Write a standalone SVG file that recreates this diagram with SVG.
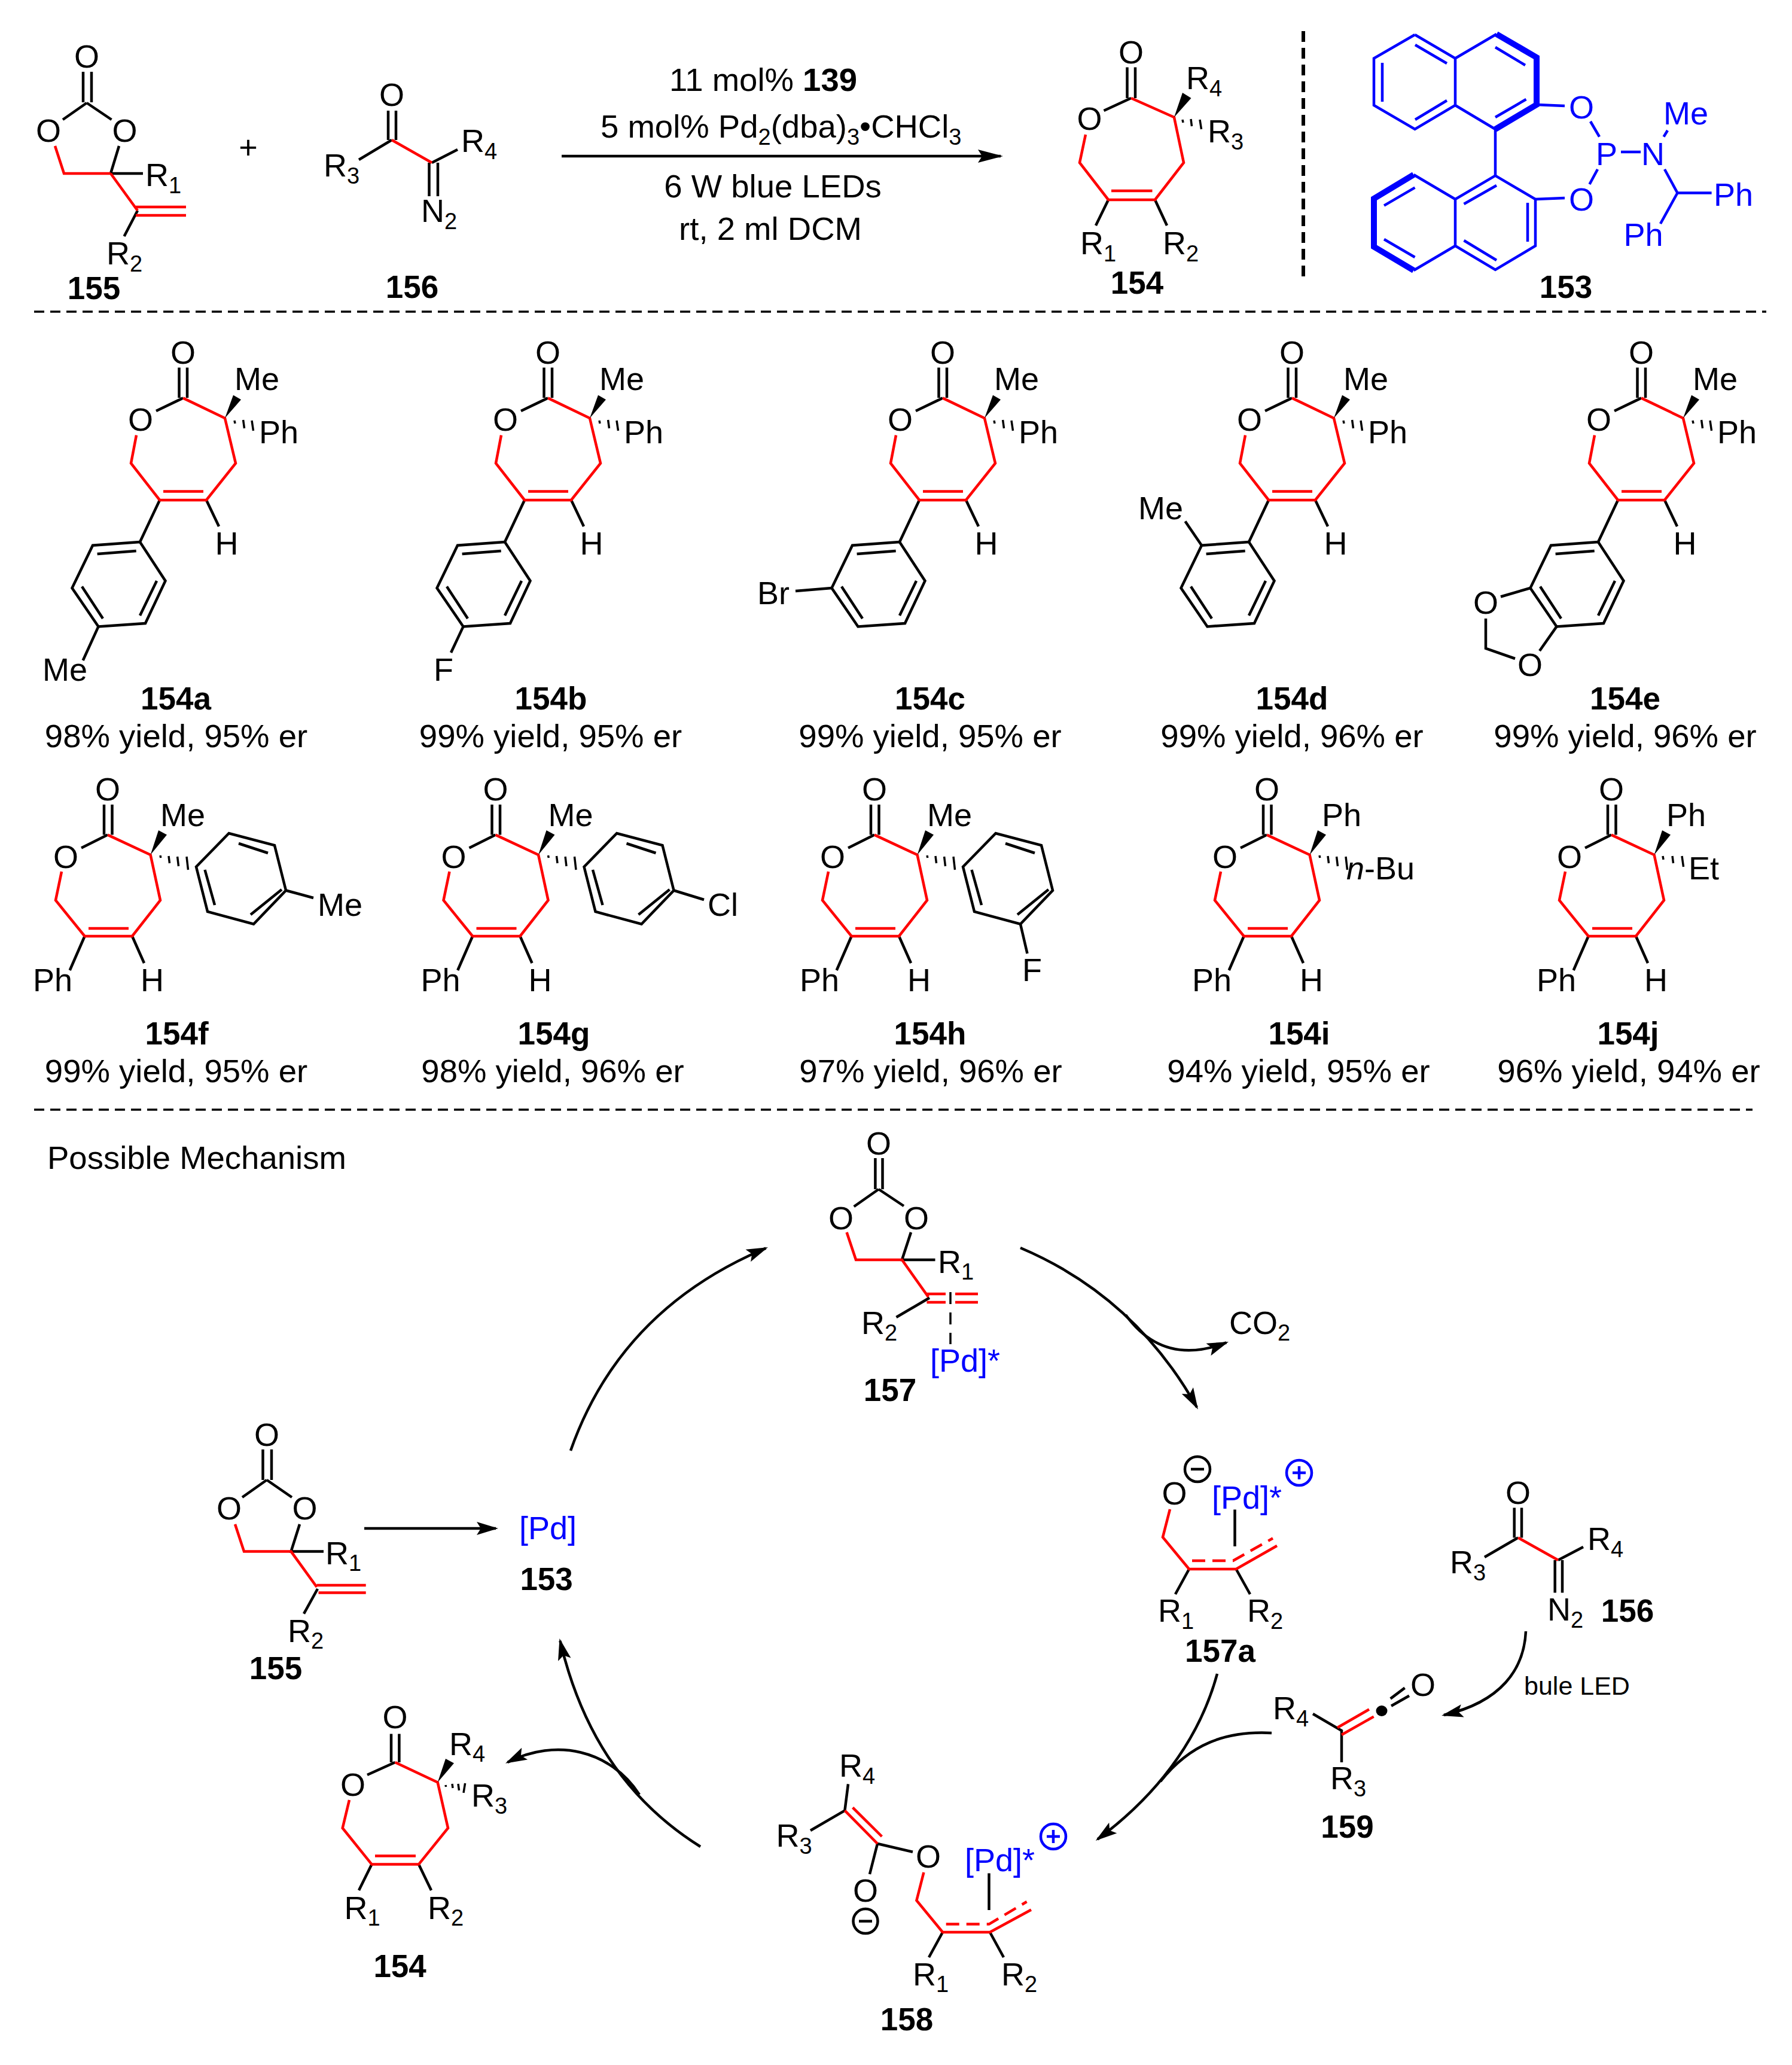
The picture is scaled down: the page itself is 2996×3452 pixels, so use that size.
<svg xmlns="http://www.w3.org/2000/svg" width="2996" height="3452" viewBox="0 0 2996 3452">
<style>
text{font-family:"Liberation Sans",Arial,sans-serif;font-size:54px;fill:#000}
.b{font-weight:700;font-size:53px;text-anchor:middle}
.c{text-anchor:middle}
.y{font-size:54.5px;text-anchor:middle}
.s{font-size:38px}
.bt{fill:#00f}
.k,.r,.l,.lt,.h,.ar,.ars,.da,.rd{fill:none;stroke-linecap:butt;stroke-linejoin:miter}
.k{stroke:#000;stroke-width:4.5}
.r{stroke:#f00;stroke-width:4.5}
.rd{stroke:#f00;stroke-width:4.5;stroke-dasharray:22 12}
.l{stroke:#00f;stroke-width:4.5}
.lt{stroke:#00f;stroke-width:10}
.h{stroke:#000;stroke-width:3.5}
.ar{stroke:#000;stroke-width:4.5;marker-end:url(#hl)}
.ars{stroke:#000;stroke-width:4.5;marker-end:url(#hs)}
.da{stroke:#000;stroke-width:3.5;stroke-dasharray:17 10}
</style>
<defs>
<marker id="hl" markerUnits="userSpaceOnUse" markerWidth="46" markerHeight="28" refX="38" refY="14" orient="auto"><path d="M0 3L42 14L0 25L7 14Z" fill="#000"/></marker>
<marker id="hs" markerUnits="userSpaceOnUse" markerWidth="42" markerHeight="28" refX="32" refY="14" orient="auto"><path d="M0 3L36 14L0 25L7 14Z" fill="#000"/></marker>
<g id="core1">
<path class="k" d="M299.5 614.5V665M313 614.5V665M261 687L306 665.4M345 836L366 880M267 836L234 906"/>
<path class="r" d="M306 665.4L376 699L394 774.5L345 836H267L219 774.5L228 727.5M273 821.5H340"/>
<polygon points="376,699 390,660.6 403,668"/>
<path class="h" d="M392 703L393 708M406.6 702L408.5 716M421 703L423.5 720"/>
</g>
<path id="ar1" class="k" d="M234 906L155 911.7L120.5 983L164.5 1047.4L243 1042L276.5 971ZM162.6 926L227.7 921M137 980.5L172 1034M234 1029L262 971"/>
<g id="core2">
<path class="k" d="M174 1345V1395.6M187.5 1345V1395.6M136 1417.4L180 1395.6M141.6 1565L116.7 1622M221 1565L241 1610"/>
<path class="r" d="M180 1395.6L251.6 1429L268 1505L221 1565H141.6L93 1505L103 1457M148 1552H215"/>
<polygon points="251.6,1429 265,1388 279,1395.5"/>
</g>
<path id="hash4" class="h" d="M268 1430L268.8 1434M282 1431L283.5 1443M296.6 1432L298.5 1448M312 1432L314.5 1454"/>
<path id="hash3" class="h" d="M266 1431L267 1437M282 1431L283.5 1443M298 1431L300.5 1449"/>
<path id="ar2" class="k" d="M328 1449L382.7 1393L459 1413L478 1488.5L424 1544.7L347 1524ZM399 1410L448 1426M359 1513L342.5 1454M471 1487L419 1529"/>
</defs>

<g id="n155-top">
<path class="k" d="M139 120V171M153 120V171M145 172L105 200M145 172L186.5 200M199 244L185 290M185 290H239M230 352L207.6 395"/>
<path class="r" d="M92 244L107 290H185M185 290L230 352M227 346H311M227 360H311"/>
<text class="c" x="145" y="113">O</text><text class="c" x="81" y="237">O</text><text class="c" x="208.5" y="237">O</text>
<text x="243" y="311">R<tspan class="s" dy="12">1</tspan></text>
<text x="178" y="442">R<tspan class="s" dy="12">2</tspan></text>
<text class="b" x="157" y="500">155</text>
</g>
<g id="plus"><text class="c" x="415" y="265">+</text></g>
<g id="n156-top">
<path class="k" d="M649 185V234M662 185V234M655 234L600 267M722 272L765 250M717.5 272V328M732 272V328"/>
<path class="r" d="M655 234L722 272"/>
<text class="c" x="655" y="177">O</text>
<text x="771" y="254">R<tspan class="s" dy="12">4</tspan></text>
<text x="541" y="295">R<tspan class="s" dy="12">3</tspan></text>
<text x="704" y="371">N<tspan class="s" dy="12">2</tspan></text>
<text class="b" x="689" y="498">156</text>
</g>
<g id="conditions">
<text class="y" x="1276" y="152">11 mol% <tspan font-weight="700">139</tspan></text>
<text x="1004" y="230" style="font-size:54.5px">5 mol% Pd<tspan class="s" dy="12">2</tspan><tspan dy="-12">(dba)</tspan><tspan class="s" dy="12">3</tspan><tspan dy="-12">•CHCl</tspan><tspan class="s" dy="12">3</tspan></text>
<text class="y" x="1292" y="330">6 W blue LEDs</text>
<text class="y" x="1288" y="401">rt, 2 ml DCM</text>
</g>
<g id="n154-top">
<path class="k" d="M1884.5 112.5V164M1898 112.5V164M1845.5 185L1891 164M1853 334L1832 377M1931 334L1951 377"/>
<path class="r" d="M1891 164L1963 196L1979 272L1931 334H1853L1805 272L1815 225M1858 319H1926.5"/>
<polygon points="1963,196 1977,155 1991.5,164"/>
<path class="h" d="M1977 200L1978 205M1991 199L1992.5 211M2006 200L2008.5 216"/>
<text class="c" x="1891" y="106">O</text><text class="c" x="1821.5" y="217">O</text>
<text x="1983" y="149">R<tspan class="s" dy="12">4</tspan></text>
<text x="2019" y="237.5">R<tspan class="s" dy="12">3</tspan></text>
<text x="1806" y="425">R<tspan class="s" dy="12">1</tspan></text>
<text x="1944" y="425">R<tspan class="s" dy="12">2</tspan></text>
<text class="b" x="1901" y="491">154</text>
</g>
<g id="n153-ligand">
<path class="l" d="M2365.5 58L2297 97.5V176L2365.5 216L2433 176V97.5L2365.5 58M2433 97.5L2502 57M2500 216L2433 176M2311 105V170M2366 75L2419 106M2366 200L2419 168M2500 79L2550 109M2500 196L2551.5 166M2500 216V293.6"/>
<path class="lt" d="M2502 57L2569 96V175L2500 216"/>
<path class="l" d="M2500 293.6L2567 333V411L2500 451L2433 411V333L2500 293.6M2433 333L2363.5 292M2363.5 452L2433 411M2502 310L2447.5 341M2554 339V404M2502 435L2447.5 402M2365.5 313.6L2314 343.6M2314 400L2365.5 430"/>
<path class="lt" d="M2363.5 292L2297 332V412.5L2363.5 452"/>
<path class="l" d="M2569 175L2616 177M2567 333L2616 331M2659 203L2674 228.6M2671 283L2657.5 308M2710 254H2743M2781.5 228.6L2788 218M2783 283L2804.5 322.5H2861.6M2804.5 322.5L2776 374"/>
<text class="c bt" x="2644" y="198">O</text><text class="c bt" x="2644" y="352">O</text>
<text class="bt" x="2668" y="276">P</text><text class="bt" x="2744" y="276">N</text>
<text class="bt" x="2781" y="208">Me</text><text class="bt" x="2865" y="343.6">Ph</text><text class="bt" x="2714.5" y="411">Ph</text>
<text class="b" x="2618" y="498">153</text>
</g>

<g id="n154a"><use href="#core1"/><use href="#ar1"/><path class="k" d="M164.5 1047.4L138.7 1104"/>
<text class="c" x="306" y="608">O</text><text class="c" x="235" y="720">O</text><text x="392" y="652">Me</text><text x="433" y="740.5">Ph</text><text x="359.5" y="927">H</text><text x="71" y="1138">Me</text>
<text class="b" x="294" y="1185.5">154a</text><text class="y" x="294.5" y="1248.5">98% yield, 95% er</text></g>
<g id="n154b"><use href="#core1" x="610"/><use href="#ar1" x="610"/><path class="k" d="M774.5 1047.4L754 1091"/>
<text class="c" x="916" y="608">O</text><text class="c" x="845" y="720">O</text><text x="1002" y="652">Me</text><text x="1043" y="740.5">Ph</text><text x="969.5" y="927">H</text><text x="725" y="1138">F</text>
<text class="b" x="921" y="1185.5">154b</text><text class="y" x="920.5" y="1248.5">99% yield, 95% er</text></g>
<g id="n154c"><use href="#core1" x="1270"/><use href="#ar1" x="1270"/><path class="k" d="M1390.5 983L1330 988"/>
<text class="c" x="1576" y="608">O</text><text class="c" x="1505" y="720">O</text><text x="1662" y="652">Me</text><text x="1703" y="740.5">Ph</text><text x="1629.5" y="927">H</text><text x="1266" y="1009.6">Br</text>
<text class="b" x="1555" y="1185.5">154c</text><text class="y" x="1555" y="1248.5">99% yield, 95% er</text></g>
<g id="n154d"><use href="#core1" x="1854"/><use href="#ar1" x="1854"/><path class="k" d="M2009 911.7L1981.5 871.4"/>
<text class="c" x="2160" y="608">O</text><text class="c" x="2089" y="720">O</text><text x="2246" y="652">Me</text><text x="2287" y="740.5">Ph</text><text x="2213.5" y="927">H</text><text x="1903" y="868">Me</text>
<text class="b" x="2160" y="1185.5">154d</text><text class="y" x="2160" y="1248.5">99% yield, 96% er</text></g>
<g id="n154e"><use href="#core1" x="2438"/><use href="#ar1" x="2438"/><path class="k" d="M2558.5 983L2509 997.5M2602.5 1047.4L2574 1088M2484 1034V1084L2533 1101"/>
<text class="c" x="2744" y="608">O</text><text class="c" x="2673" y="720">O</text><text x="2830" y="652">Me</text><text x="2871" y="740.5">Ph</text><text x="2797.5" y="927">H</text><text class="c" x="2484" y="1026">O</text><text class="c" x="2558" y="1130">O</text>
<text class="b" x="2717" y="1185.5">154e</text><text class="y" x="2717" y="1248.5">99% yield, 96% er</text></g>

<g id="n154f"><use href="#core2"/><use href="#hash4"/><use href="#ar2"/><path class="k" d="M478 1488.5L524 1501"/>
<text class="c" x="180" y="1338">O</text><text class="c" x="110" y="1451">O</text><text x="55" y="1657">Ph</text><text x="235" y="1657">H</text><text x="268" y="1381">Me</text><text x="531" y="1531">Me</text>
<text class="b" x="295.5" y="1745.6">154f</text><text class="y" x="294.5" y="1809">99% yield, 95% er</text></g>
<g id="n154g"><use href="#core2" x="648.5"/><use href="#hash4" x="648.5"/><use href="#ar2" x="648.5"/><path class="k" d="M1126.5 1488.5L1177 1504"/>
<text class="c" x="828.5" y="1338">O</text><text class="c" x="758.5" y="1451">O</text><text x="703.5" y="1657">Ph</text><text x="883.5" y="1657">H</text><text x="916.5" y="1381">Me</text><text x="1183" y="1531">Cl</text>
<text class="b" x="926" y="1745.6">154g</text><text class="y" x="924" y="1809">98% yield, 96% er</text></g>
<g id="n154h"><use href="#core2" x="1282"/><use href="#hash4" x="1282"/><use href="#ar2" x="1282"/><path class="k" d="M1706 1544.7L1717.5 1594"/>
<text class="c" x="1462" y="1338">O</text><text class="c" x="1392" y="1451">O</text><text x="1337" y="1657">Ph</text><text x="1517" y="1657">H</text><text x="1550" y="1381">Me</text><text x="1709" y="1640">F</text>
<text class="b" x="1555" y="1745.6">154h</text><text class="y" x="1556" y="1809">97% yield, 96% er</text></g>
<g id="n154i"><use href="#core2" x="1938"/><use href="#hash4" x="1938"/>
<text class="c" x="2118" y="1338">O</text><text class="c" x="2048" y="1451">O</text><text x="1993" y="1657">Ph</text><text x="2173" y="1657">H</text><text x="2210" y="1381">Ph</text><text x="2251" y="1469.6"><tspan font-style="italic">n</tspan>-Bu</text>
<text class="b" x="2172" y="1745.6">154i</text><text class="y" x="2171" y="1809">94% yield, 95% er</text></g>
<g id="n154j"><use href="#core2" x="2514"/><use href="#hash3" x="2514"/>
<text class="c" x="2694" y="1338">O</text><text class="c" x="2624" y="1451">O</text><text x="2569" y="1657">Ph</text><text x="2749" y="1657">H</text><text x="2786" y="1381">Ph</text><text x="2823" y="1469.6">Et</text>
<text class="b" x="2722" y="1745.6">154j</text><text class="y" x="2723" y="1809">96% yield, 94% er</text></g>

<g id="dividers">
<path class="da" d="M57 521H2953"/>
<path class="da" d="M57 1855H2930"/>
<path class="da" style="stroke-width:6;stroke-dasharray:18 10" d="M2179 52V464"/>
</g>
<g id="mechanism-title"><text x="79" y="1954" style="font-size:54.5px">Possible Mechanism</text></g>

<g id="n157">
<path class="k" d="M1463.4 1936V1988M1475.5 1936V1988M1469 1988L1427.7 2017M1469 1988L1511 2016M1523 2060L1508 2106H1563.5M1554 2169.5L1498.5 2202"/>
<path class="r" d="M1415.6 2060L1431 2106H1508L1552 2168M1549.5 2163H1581M1597 2163H1635M1549.5 2177H1581M1597 2177H1635"/>
<path class="k" style="stroke-width:3.5;stroke-dasharray:20 14" d="M1589 2160V2247"/>
<text class="c" x="1469" y="1930">O</text><text class="c" x="1406" y="2055">O</text><text class="c" x="1532" y="2055">O</text>
<text x="1568" y="2128">R<tspan class="s" dy="11">1</tspan></text>
<text x="1440" y="2230">R<tspan class="s" dy="11">2</tspan></text>
<text class="bt" x="1555" y="2293">[Pd]*</text>
<text class="b" x="1488" y="2341.5">157</text>
</g>
<g id="co2"><text x="2055" y="2230">CO<tspan class="s" dy="11">2</tspan></text></g>
<g id="n157a">
<path class="k" d="M2064.5 2523.5V2585M1988 2623L1965 2665M2066.6 2623L2090 2665"/>
<path class="r" d="M1956 2523L1944 2569.6L1988 2623H2066.6L2135 2584"/>
<path class="rd" d="M1993 2609H2061.6L2128 2571.5"/>
<text class="c" x="1963.5" y="2515">O</text>
<circle class="k" cx="2002" cy="2456" r="21"/><path class="k" d="M1991 2456H2013"/>
<text class="bt" x="2026" y="2522">[Pd]*</text>
<circle class="l" cx="2172" cy="2462" r="21"/><path class="l" d="M2161 2462H2183M2172 2451V2473"/>
<text x="1936" y="2711">R<tspan class="s" dy="12">1</tspan></text>
<text x="2085" y="2711">R<tspan class="s" dy="12">2</tspan></text>
<text class="b" x="2040" y="2778">157a</text>
</g>
<g id="n156">
<path class="k" d="M2531.7 2520.6V2570.5M2544 2520.6V2570.5M2538 2570.5L2482 2603M2605 2608L2647 2586M2599.7 2608V2662.6M2612 2608V2662.6"/>
<path class="r" d="M2538 2570.5L2605 2608"/>
<text class="c" x="2538" y="2514">O</text>
<text x="2654" y="2591">R<tspan class="s" dy="12">4</tspan></text>
<text x="2424" y="2630">R<tspan class="s" dy="12">3</tspan></text>
<text x="2587" y="2709">N<tspan class="s" dy="12">2</tspan></text>
<text class="b" x="2721" y="2711">156</text>
</g>
<g id="led-label"><text x="2548" y="2833" style="font-size:43px">bule LED</text></g>
<g id="n159">
<path class="k" d="M2195 2865L2243 2893V2946M2324.7 2839.6L2348.6 2821.6M2326 2851.7L2356 2834.7"/>
<path class="r" d="M2243 2900L2296.7 2869.6M2236 2888L2289 2857.5"/>
<ellipse cx="2310" cy="2860" rx="9.5" ry="9"/>
<text class="c" x="2379" y="2835">O</text>
<text x="2128" y="2873.5">R<tspan class="s" dy="12">4</tspan></text>
<text x="2224" y="2991">R<tspan class="s" dy="12">3</tspan></text>
<text class="b" x="2252.5" y="3072">159</text>
</g>
<g id="n158">
<path class="k" d="M1418 2982.4L1412.4 3026.6L1355 3060M1467 3082L1526 3095.7M1467 3082L1454 3133M1653.5 3131.4V3193M1576 3230L1553 3272M1655 3230L1678 3272"/>
<path class="r" d="M1412.4 3026.6L1467 3082M1425.6 3021.6L1474.4 3070M1544.4 3130L1532.4 3177L1576 3230H1655L1724 3192.4"/>
<path class="rd" d="M1581.7 3216.6H1653.5L1716.6 3179"/>
<text class="c" x="1552" y="3122">O</text><text class="c" x="1447" y="3179">O</text>
<circle class="k" cx="1447" cy="3211.6" r="20.5"/><path class="k" d="M1436 3211.6H1458"/>
<text x="1403" y="2970">R<tspan class="s" dy="12">4</tspan></text>
<text x="1297.6" y="3087">R<tspan class="s" dy="12">3</tspan></text>
<text class="bt" x="1613" y="3128">[Pd]*</text>
<circle class="l" cx="1761" cy="3070" r="21"/><path class="l" d="M1750 3070H1772M1761 3059V3081"/>
<text x="1526" y="3319">R<tspan class="s" dy="11">1</tspan></text>
<text x="1674" y="3319">R<tspan class="s" dy="11">2</tspan></text>
<text class="b" x="1516" y="3394">158</text>
</g>
<g id="n155">
<path class="k" d="M439.5 2423V2474M454 2423V2474M446 2474L405 2503M446 2474L488 2503M501 2548L486.6 2593.6H541M531 2656L508 2697.6"/>
<path class="r" d="M393 2548L408 2593.6H486.6L529.6 2653M529.6 2650H611.7M532.5 2662.5H611.7"/>
<text class="c" x="446" y="2417">O</text><text class="c" x="383" y="2540">O</text><text class="c" x="509.5" y="2540">O</text>
<text x="544" y="2614.7">R<tspan class="s" dy="11">1</tspan></text>
<text x="481" y="2745">R<tspan class="s" dy="11">2</tspan></text>
<text class="b" x="461" y="2807">155</text>
</g>
<g id="n153"><text class="bt" x="868" y="2573">[Pd]</text><text class="b" x="913.6" y="2658">153</text></g>
<g id="n154">
<path class="k" d="M654 2898.5V2946M667.4 2898.5V2946M660.5 2946L614 2967M621.5 3116.6L600 3160M700 3116.6L721 3160"/>
<path class="r" d="M660.5 2946L731.7 2979.5L749 3056L700 3116.6H621.5L572.7 3056L584 3009M627 3102.5H695"/>
<polygon points="731.7,2979.5 745,2940 759,2947.6"/>
<path class="h" d="M745 2984L745.6 2987M756 2982L757 2989M766 2982L767.5 2993M777.6 2981L775 2997"/>
<text class="c" x="660.5" y="2889">O</text><text class="c" x="590" y="3002">O</text>
<text x="751" y="2933.5">R<tspan class="s" dy="11">4</tspan></text>
<text x="788" y="3019.6">R<tspan class="s" dy="12">3</tspan></text>
<text x="575.6" y="3208">R<tspan class="s" dy="11">1</tspan></text>
<text x="715" y="3208">R<tspan class="s" dy="11">2</tspan></text>
<text class="b" x="668.6" y="3305">154</text>
</g>

<g id="connectors">
<path class="ar" d="M939 261H1673"/>
<path class="ars" d="M609 2555H829"/>
<path class="ars" d="M954 2425Q1037 2189 1280.3 2086.6"/>
<path class="ars" d="M1706 2086Q1897 2167 2001 2352.5"/>
<path class="ars" d="M1882 2198Q1945 2285 2050.3 2244.4"/>
<path class="ars" d="M2551 2727C2548 2790 2510 2845 2414 2867"/>
<path class="ars" d="M2035 2798C2010 2890 1950 2990 1835 3074.6"/>
<path class="k" d="M2126 2897C2050 2893 1990 2915 1940 2978"/>
<path class="ars" d="M1171 3087C1040 3005 970 2885 936.4 2743"/>
<path class="ars" d="M1069 3000C1020 2925 930 2905 848.6 2946"/>
</g>
</svg>
